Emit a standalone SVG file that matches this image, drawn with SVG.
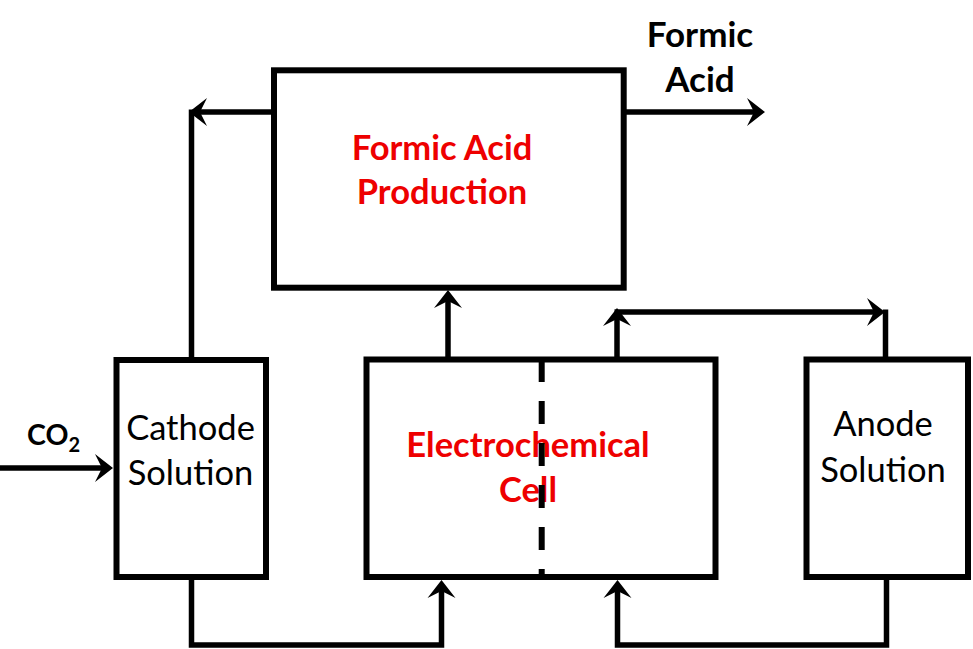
<svg xmlns="http://www.w3.org/2000/svg" width="973" height="649" viewBox="0 0 973 649">
<style>
.box{fill:#fff;stroke:#000;stroke-width:6}
.ln{fill:none;stroke:#000;stroke-width:5.5;stroke-linejoin:miter}
.arr{marker-end:url(#ah)}
.lbl{font-family:Lato,"Open Sans",sans-serif;font-size:34.5px;fill:#000;text-anchor:middle}
.red{font-family:Lato,"Open Sans",sans-serif;font-size:34.5px;font-weight:bold;fill:#ee0000;text-anchor:middle}
.bk{font-family:Lato,"Open Sans",sans-serif;font-size:35px;font-weight:bold;fill:#000;text-anchor:middle}
</style>
<defs>
<marker id="ah" markerUnits="userSpaceOnUse" viewBox="-10 -15 20 30" markerWidth="20" markerHeight="30" refX="0" refY="0" orient="auto" overflow="visible">
<path d="M9,0 L-9,-14 L-2,0 L-9,14 Z" fill="#000"/>
</marker>
</defs>
<rect width="973" height="649" fill="#fff"/>
<g id="connectors">
<path class="ln arr" d="M0,468 H104"/>
<path class="ln arr" d="M274,112 H198"/>
<path class="ln" d="M191.5,109.5 V360"/>
<path class="ln arr" d="M624,112 H756"/>
<path class="ln arr" d="M448,359 V299"/>
<path class="ln arr" d="M617,359 V317"/>
<path class="ln arr" d="M614.5,312 H876"/>
<path class="ln" d="M885.5,309.5 V359.5"/>
<path class="ln arr" d="M191.5,577 V645 H441.5 V589"/>
<path class="ln arr" d="M886.5,577 V645 H617.5 V589"/>
</g>
<g id="fap">
<rect class="box" x="274" y="70.3" width="349.7" height="217.4"/>
<text class="red" x="442" y="160">Formic Acid</text>
<text class="red" x="442" y="204">Production</text>
</g>
<g id="cathode">
<rect class="box" x="116.5" y="360" width="149.5" height="217"/>
<text class="lbl" x="190.5" y="440">Cathode</text>
<text class="lbl" x="190.5" y="485">Solution</text>
</g>
<g id="cell">
<rect class="box" x="366.5" y="359.5" width="349" height="217.5"/>
<text class="red" x="528" y="457">Electrochemical</text>
<text class="red" x="528" y="502">Cell</text>
<line x1="541.7" y1="359" x2="541.7" y2="577" stroke="#000" stroke-width="6" stroke-dasharray="23 19"/>
</g>
<g id="anode">
<rect class="box" x="806.5" y="359.5" width="161.5" height="217.5"/>
<text class="lbl" x="883" y="436">Anode</text>
<text class="lbl" x="883" y="482">Solution</text>
</g>
<g id="labels">
<text class="bk" x="700" y="47">Formic</text>
<text class="bk" x="700" y="92">Acid</text>
<text class="bk" x="27" y="445" style="text-anchor:start;font-size:28.5px">CO<tspan dy="7" style="font-size:20px">2</tspan></text>
</g>
</svg>
